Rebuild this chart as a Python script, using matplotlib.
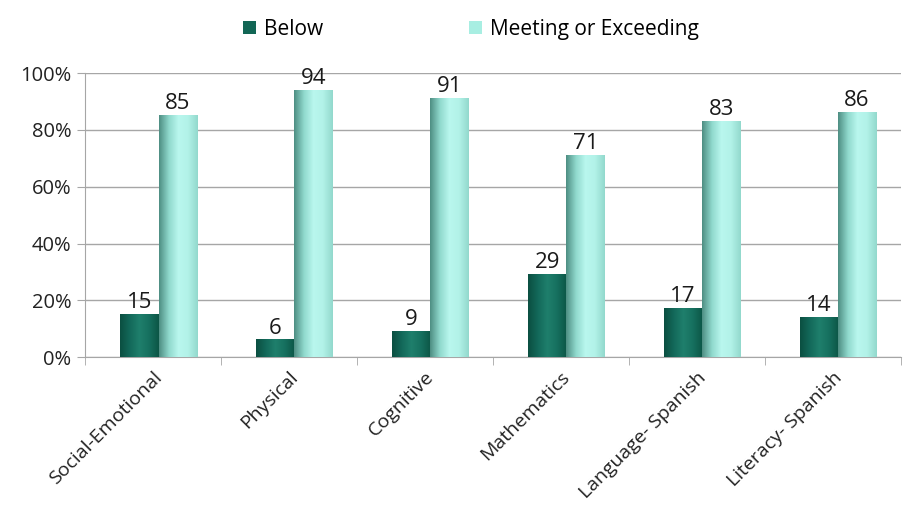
import numpy as np
import matplotlib.pyplot as plt
from matplotlib.colors import LinearSegmentedColormap
from matplotlib.patches import Patch

# ----------------------------------------------------
# Data
# ----------------------------------------------------
categories = ["Social-Emotional", "Physical", "Cognitive", "Mathematics",
              "Language- Spanish", "Literacy- Spanish"]
below = [15, 6, 9, 29, 17, 14]
meeting = [85, 94, 91, 71, 83, 86]
series_names = ["Below", "Meeting or Exceeding"]

plt.rcParams['font.family'] = ['Open Sans', 'DejaVu Sans']

# horizontal gradients that fake the shaded 3D look
dark_cmap = LinearSegmentedColormap.from_list(
    "dark", ["#0b4f41", "#13695a", "#1f7f6c", "#16705f", "#0c5646"])
light_cmap = LinearSegmentedColormap.from_list(
    "light", ["#4f8f84", "#8fd8cc", "#b9f7ee", "#b2f2e8", "#93d9cd"])

fig = plt.figure(figsize=(9.06, 5.08), dpi=100)
ax = fig.add_axes([0.094, 0.297, 0.9, 0.559])

x = np.arange(len(categories))
w = 0.28
grad = np.linspace(0, 1, 64).reshape(1, -1)

def gradient_bars(xpos, vals, cmap):
    bars = ax.bar(xpos, vals, w, color='none', edgecolor='none', zorder=3)
    for b in bars:
        x0 = b.get_x()
        ax.imshow(grad, cmap=cmap, aspect='auto', zorder=3,
                  extent=(x0, x0 + b.get_width(), 0, b.get_height()))
    return bars

b1 = gradient_bars(x - w / 2 + 0.04, below, dark_cmap)
b2 = gradient_bars(x + w / 2 + 0.04, meeting, light_cmap)

for bars, vals in ((b1, below), (b2, meeting)):
    for b, v in zip(bars, vals):
        ax.text(b.get_x() + b.get_width() / 2, v + 0.5, str(v),
                ha='center', va='bottom', fontsize=16, color='#1a1a1a', zorder=4)

ax.set_xlim(-0.5, len(categories) - 0.5)
ax.set_ylim(0, 100)
ax.set_yticks(range(0, 101, 20))
ax.set_yticklabels([f"{v}%" for v in range(0, 101, 20)], fontsize=14.5, color='#222222')
ax.yaxis.grid(True, color='#a6a6a6', linewidth=1)
ax.set_axisbelow(True)

# category labels rotated, ticks at boundaries
ax.set_xticks(x)
ax.set_xticklabels(categories, rotation=45, ha='right', rotation_mode='anchor',
                   fontsize=14, color='#222222')
ax.tick_params(axis='x', length=0, pad=8)
ax.set_xticks(np.arange(-0.5, len(categories)), minor=True)
ax.tick_params(axis='x', which='minor', length=6, color='#a6a6a6')
ax.tick_params(axis='y', length=6, color='#a6a6a6', pad=4)

for s in ('top', 'right'):
    ax.spines[s].set_visible(False)
ax.spines['left'].set_color('#a6a6a6')
ax.spines['bottom'].set_color('#a6a6a6')

handles = [Patch(facecolor='#126655'), Patch(facecolor='#a8eee2')]
fig.legend(handles, series_names, loc='upper center', bbox_to_anchor=(0.52, 1.0),
           ncol=2, frameon=False, fontsize=15, handlelength=0.6, handleheight=0.6,
           handletextpad=0.4, columnspacing=7)

fig.savefig('out.png', dpi=100)
